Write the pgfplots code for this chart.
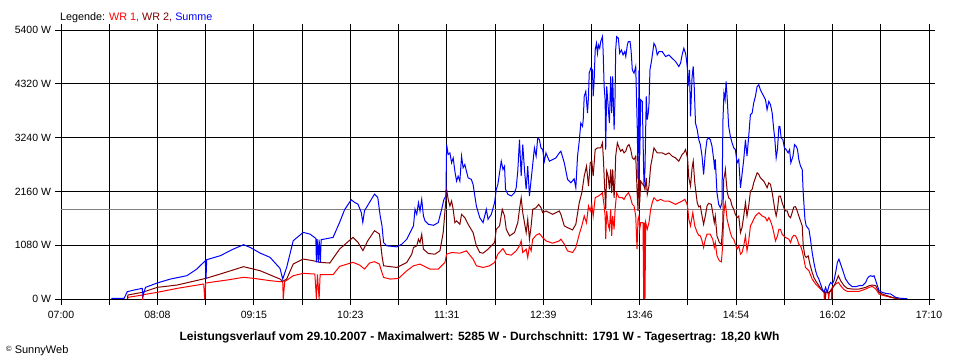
\documentclass[border=0pt]{standalone}
\usepackage{pgfplots}
\pgfplotsset{compat=1.18}
\usepackage{fontspec}
\setmainfont{Liberation Sans}
\definecolor{wrone}{RGB}{255,0,0}
\definecolor{wrtwo}{RGB}{128,0,0}
\definecolor{summe}{RGB}{0,0,255}
\definecolor{avg}{RGB}{128,128,128}
\begin{document}
\begin{tikzpicture}[x=1pt,y=1pt]
\path[use as bounding box] (0,0) rectangle (960,360);
\begin{axis}[
  at={(61pt,61pt)}, anchor=south west, scale only axis,
  width=868pt, height=269pt,
  xmin=0, xmax=610, ymin=0, ymax=5400,
  xtick={0,33.889,67.778,101.667,135.556,169.444,203.333,237.222,271.111,305,338.889,372.778,406.667,440.556,474.444,508.333,542.222,576.111,610},
  xticklabels={07:00,,08:08,,09:15,,10:23,,11:31,,12:39,,13:46,,14:54,,16:02,,17:10},
  ytick={0,1080,2160,3240,4320,5400},
  yticklabels={0 W,1080 W,2160 W,3240 W,4320 W,5400 W},
  grid=major, major grid style={black, line width=1pt},
  axis line style={black, line width=1pt},
  tick align=outside, major tick length=6pt,
  tick style={black, line width=1pt},
  xticklabel style={font=\fontsize{10.5}{12}\selectfont, yshift=-3pt},
  yticklabel style={font=\fontsize{10.5}{12}\selectfont, xshift=-0.5pt},
  every axis plot/.append style={line width=1pt, line join=miter},
]
\addplot[avg, line width=1pt] coordinates {(0,1791) (610,1791)};
% WR 1
\addplot[wrone] coordinates {
(46.7,0) (47.0,33) (57.2,80) (57.4,0) (57.9,87) (67.7,134) (81.7,214) (100.3,301) (101.0,0) (101.7,321) (116.6,381) (128.3,435) (135.3,415) (146.9,368) (153.9,348) (155.8,348) (156.2,0) (157.2,348) (163.2,468) (170.2,515) (178.4,501) (179.5,0) (180.2,495) (181.4,0) (182.1,488) (191.2,488) (195.8,655) (205.2,736) (209.8,682) (213.3,602) (216.8,722) (220.3,749) (223.8,702)
(224.4,633) (226.7,433) (231.4,400) (237.2,413) (243.0,567) (247.7,667) (252.3,700) (254.7,667) (259.3,600) (265.1,600) (269.8,733) (271.0,900) (274.5,933) (280.3,920) (284.9,967) (289.6,800) (291.9,667) (296.6,633) (301.2,667) (304.7,733) (307.0,900) (310.6,1013) (312.9,900) (316.4,880) (319.9,967) (322.2,1067) (323.4,1167) (324.5,933) (326.9,1000) (328.0,833) (329.2,1067) (330.4,967) (331.5,1200) (333.9,1280) (336.2,1313) (338.5,1233) (340.8,1167) (345.5,1120) (350.2,1167) (351.3,1200) (353.7,1100) (356.0,967) (359.5,933) (361.8,1033)
(364.2,1300) (366.0,1467) (367.7,1667) (369.3,1533) (370.7,1867) (371.9,1767) (373.0,1900) (374.0,1667) (375.4,2033) (377.7,2067) (379.3,2100) (380.5,2133) (381.7,1867) (382.4,1667) (382.8,1200) (383.5,1767) (384.7,1467) (385.4,1400) (386.3,1800) (387.0,1267) (387.7,1667) (388.7,1400) (389.4,1800) (390.5,2133) (392.2,2033) (394.5,2033) (395.7,2000) (396.9,2067) (398.7,2133) (399.9,2067) (401.5,1900) (402.7,1867) (403.9,1667) (404.8,1000) (405.5,1600) (406.2,1667) (406.7,1400) (407.4,1533) (409.0,1533) (409.5,0) (409.9,1533) (410.4,0) (410.9,1533) (412.0,1400) (413.2,1533) (414.4,1800) (415.5,1933) (416.7,2033) (419.0,1967) (421.4,2000) (423.7,1967) (427.2,1967) (429.5,1933) (431.9,1900) (434.2,1933) (436.5,1967) (438.4,2000) (439.6,1933) (440.3,1867) (441.2,1600) (442.4,1467) (444.0,1733) (445.4,1467) (447.1,1333) (448.2,1280)
(449.3,1267) (450.5,1167) (451.6,1033) (452.8,1200) (454.0,1300) (456.3,1300) (458.0,1200) (459.1,1033) (459.8,1133) (461.0,867) (462.7,767) (464.1,747) (465.0,1067) (465.7,1667) (466.4,1867) (466.9,1933) (468.1,1600) (469.2,1467) (470.4,1333) (471.6,1233) (472.8,1200) (473.9,1100) (475.1,1000) (476.3,1067) (477.5,900) (478.6,933) (479.8,1067) (481.0,1267) (482.1,967) (483.3,1167) (484.5,1467) (485.7,1533) (486.8,1600) (488.0,1667) (490.4,1733) (492.7,1667) (495.1,1633) (496.2,1567) (497.4,1633) (498.6,1567) (499.8,1467) (500.9,1333) (502.1,1167) (503.5,1267) (504.5,1400) (505.6,1400) (506.8,1300) (509.2,1233) (511.5,1200) (512.7,1133) (513.8,1233) (515.0,1280) (516.2,1267) (517.4,1200) (518.5,1100) (519.7,1067) (520.9,967) (522.1,800) (523.2,633) (524.4,600) (525.6,567) (527.9,400) (530.3,300) (532.6,233) (533.8,200) (536.2,147) (536.4,0) (536.9,147) (539.2,133) (539.5,0) (540.0,133) (541.4,200) (541.6,0) (542.0,233) (544.4,300) (546.3,333) (547.9,267) (550.3,187) (552.6,153) (556.1,153) (560.8,153) (565.5,200) (567.9,233) (570.2,253) (572.6,200) (574.9,100) (578.4,67) (583.1,33) (586.6,13) (588.9,0)
};
% WR 2
\addplot[wrtwo] coordinates {
(46.7,0) (47.0,80) (57.2,134) (67.7,234) (81.7,281) (101.9,415) (112.0,502) (128.3,649) (139.9,568) (153.9,401) (155.8,354) (158.6,401) (163.2,702) (170.2,802) (177.2,769) (181.9,736) (188.9,722) (195.8,1003) (205.2,1237) (208.7,1137) (212.2,970) (215.6,1170) (220.3,1371) (223.8,1304)
(225.6,867) (226.7,667) (236.0,633) (243.0,733) (246.5,900) (247.7,1033) (250.0,1067) (251.2,1200) (252.3,1133) (253.5,1300) (254.7,1000) (258.2,913) (262.8,900) (266.3,967) (268.6,1333) (270.5,2000) (271.0,2200) (272.1,2000) (273.3,1867) (274.5,1967) (275.6,1800) (276.8,1533) (278.0,1567) (280.3,1500) (281.5,1700) (283.8,1633) (286.1,1500) (289.6,1333) (291.9,1067) (294.3,933) (296.6,920) (300.1,1000) (302.4,1067) (304.7,1133) (305.9,1400) (308.2,1467) (310.1,1800) (311.7,1667) (312.9,1400) (315.2,1267) (318.7,1333) (321.0,1533) (322.2,1800) (323.4,2033) (324.5,1733) (325.7,1533) (326.9,1333) (328.0,1600) (329.2,1200) (330.4,1467) (331.5,1800) (333.9,1833) (335.7,1900) (337.3,1833) (338.5,1733) (340.8,1767) (345.5,1700) (350.2,1767) (351.3,1700) (353.7,1467) (356.0,1433) (359.5,1387) (361.8,1500)
(364.2,1933) (366.0,2133) (367.7,2467) (369.3,2667) (370.7,2267) (371.9,2733) (373.0,2767) (374.0,2467) (375.4,3000) (377.0,3033) (379.3,3033) (380.5,3133) (381.2,2800) (381.9,2333) (382.8,1800) (383.5,2567) (384.5,2467) (385.4,2200) (386.3,2600) (387.0,2133) (387.7,2600) (388.7,2033) (389.4,2467) (389.8,2867) (391.0,3133) (392.2,3033) (393.3,2967) (394.5,3000) (395.7,2933) (396.9,2967) (398.0,3067) (399.2,3100) (400.4,3000) (401.5,2833) (402.7,2800) (403.9,2867) (405.0,2067) (405.5,1767) (406.2,2867) (406.7,1933) (407.4,2367) (409.7,2267) (410.4,2200) (411.3,2433) (412.0,2100) (413.2,2267) (414.4,2667) (415.5,2833) (416.7,3033) (419.0,2933) (422.5,2933) (424.9,2900) (427.2,2933) (429.5,2867) (431.9,2833) (434.2,2767) (436.5,2900) (437.7,2933) (438.9,3000) (440.3,2833) (441.2,2433) (442.4,2267) (443.5,2633) (444.3,2767) (445.4,2333) (447.1,1933) (448.2,1850)
(449.3,1867) (450.5,1667) (451.6,1500) (452.8,1667) (454.0,1867) (455.1,1920) (457.0,1900) (458.0,1733) (459.1,1533) (459.8,1667) (461.0,1267) (462.7,1133) (464.1,1100) (465.0,1467) (465.7,2400) (466.4,2500) (466.9,2600) (467.4,2400) (468.3,2133) (469.2,2033) (470.4,2000) (471.6,1867) (472.8,1800) (473.9,1700) (475.1,1633) (476.3,1667) (477.5,1333) (478.6,1433) (479.8,1667) (481.0,1933) (482.1,1667) (483.3,1867) (484.5,2167) (485.7,2200) (486.8,2333) (488.0,2433) (489.2,2533) (490.4,2500) (491.5,2433) (492.7,2400) (493.9,2367) (495.1,2300) (496.2,2233) (497.4,2333) (498.6,2300) (499.8,2133) (500.9,1933) (501.6,1800) (502.6,1667) (503.5,1800) (504.5,2067) (505.6,2067) (506.8,1933) (508.0,1833) (509.2,1767) (510.3,1767) (511.5,1667) (512.7,1633) (513.8,1733) (515.0,1847) (516.2,1853) (517.4,1767) (518.5,1667) (519.7,1567) (520.9,1467) (521.6,1067) (522.8,867) (523.7,833) (525.1,867) (526.3,700) (527.9,533) (529.1,433) (530.3,367) (532.6,267) (535.0,167) (536.9,133) (537.1,0) (537.6,133) (539.7,133) (542.0,200) (544.4,333) (546.3,467) (547.9,367) (550.3,267) (552.6,213) (556.1,200) (560.8,200) (565.5,233) (567.9,267) (570.2,280) (572.6,267) (574.9,133) (577.2,100) (581.9,53) (586.6,13) (588.9,0)
};
% Summe
\addplot[summe] coordinates {
(35.4,13) (44.3,13) (46.6,147) (51.3,180) (57.1,214) (57.6,67) (59.4,234) (67.6,321) (76.9,401) (88.5,468) (95.5,602) (101.4,769) (101.9,401) (102.4,789) (111.9,869) (121.2,1003) (128.3,1090) (132.9,1036) (139.9,923) (146.9,836) (153.9,615) (155.8,401) (158.6,635) (163.2,1170) (170.2,1337) (174.9,1304) (179.1,1217) (179.5,736) (180.0,1204) (180.9,736) (181.4,1190) (182.3,736) (182.8,1190) (191.2,1237) (195.8,1538) (199.3,1792) (204.0,1993) (206.3,1939) (208.7,1906) (211.0,1739) (212.1,1538) (213.3,1772) (216.8,1939) (220.3,2106) (222.6,2040) (224.3,1672)
(225.6,1467) (226.7,1133) (229.0,1067) (236.0,1047) (239.5,1100) (243.0,1200) (247.7,1467) (248.8,1800) (250.0,1700) (251.2,1933) (252.3,1767) (253.5,2000) (254.7,1667) (255.8,1567) (258.2,1500) (261.7,1480) (265.1,1533) (267.5,1800) (269.1,2000) (270.5,2067) (271.0,3100) (272.1,2900) (273.3,2933) (274.5,2733) (275.6,2833) (276.8,2567) (278.0,2367) (279.1,2467) (280.3,2367) (281.5,2867) (282.6,2633) (283.8,2700) (284.9,2567) (286.1,2433) (288.4,2400) (289.6,2300) (291.9,1867) (294.3,1633) (296.6,1533) (298.9,1800) (300.1,1600) (302.4,1700) (304.7,1933) (305.9,2200) (307.0,2300) (309.4,2767) (310.6,2600) (311.7,2667) (312.4,2200) (314.1,2100) (316.4,2067) (318.7,2133) (319.9,2233) (321.0,2567) (322.2,3200) (323.4,2467) (324.5,3100) (325.7,2600) (326.9,2200) (328.0,2667) (329.2,2067) (330.4,2400) (331.5,2700) (332.7,3033) (333.9,2867) (335.0,3233) (336.2,3200) (337.3,3033) (338.5,3000) (339.7,2767) (340.8,2933) (343.2,2767) (345.5,2800) (347.8,2833) (350.2,2933) (351.3,2967) (353.7,2733) (356.0,2400) (358.3,2333) (360.6,2413) (361.8,2233)
(363.0,2867) (364.2,3167) (365.3,3533) (366.5,3467) (367.0,3600) (367.7,4067) (368.8,4167) (370.0,3733) (370.7,4067) (371.2,4533) (372.3,4633) (373.5,4600) (374.0,4067) (374.7,4400) (375.4,5000) (376.3,5133) (377.0,4933) (377.7,5100) (378.6,5033) (379.3,5167) (380.5,5267) (381.0,4967) (381.7,4267) (382.4,4000) (382.8,3000) (383.5,4267) (384.7,3800) (385.4,3533) (386.3,4467) (387.0,3733) (387.7,4467) (388.7,3400) (389.4,4100) (389.8,5000) (390.5,5267) (391.7,5233) (392.6,4933) (393.8,5000) (395.0,4900) (396.2,4967) (396.9,4867) (398.0,5100) (398.7,5167) (399.9,5167) (400.6,5000) (401.5,4600) (402.7,4533) (403.9,4667) (405.0,3400) (405.5,2400) (406.2,4600) (406.7,2867) (407.4,4000) (408.5,3967) (409.7,2267) (410.4,2600) (411.3,4067) (412.0,3600) (412.7,3733) (413.2,3900) (413.9,4600) (415.1,4800) (416.7,5133) (417.9,5067) (419.0,4900) (420.2,4967) (422.5,4967) (424.9,4867) (427.2,4900) (429.5,4833) (431.9,4767) (434.2,4667) (435.4,4733) (436.5,4900) (437.7,5033) (438.9,4933) (439.6,4800) (440.3,4600) (440.7,4267) (441.7,4600) (442.4,3667) (443.5,4467) (444.3,4667) (445.0,4267) (445.9,3533) (447.1,3400) (448.2,3200)
(449.3,3100) (450.5,2867) (451.6,2500) (452.8,2933) (454.0,3200) (455.1,3233) (456.3,3200) (457.5,3067) (458.7,2800) (459.4,2600) (459.8,2800) (461.0,2133) (462.2,1900) (463.4,1833) (464.5,1933) (465.2,3600) (465.9,4133) (466.7,4000) (467.4,4367) (468.1,4067) (469.2,3467) (470.4,3267) (471.6,3133) (472.8,3033) (473.9,3000) (475.1,2733) (476.3,2800) (477.5,2233) (478.6,2500) (479.8,2800) (481.0,3200) (482.1,2867) (483.3,3267) (484.5,3700) (485.7,3733) (486.8,3933) (488.0,4067) (489.2,4267) (490.4,4300) (491.5,4200) (492.7,4133) (493.9,4067) (495.1,4000) (496.2,3800) (497.4,3967) (498.6,3900) (499.8,3733) (500.9,3400) (501.6,3233) (502.6,2833) (503.5,3000) (504.5,3467) (505.2,3467) (506.1,3233) (507.3,3200) (508.4,3033) (509.6,3000) (511.0,2933) (512.0,3000) (512.9,2733) (514.4,2867) (515.5,3100) (516.6,3067) (517.6,3000) (518.5,2800) (519.7,2667) (520.9,2600) (521.6,2133) (522.8,1600) (523.7,1467) (525.6,1400) (526.7,1200) (527.9,933) (529.1,733) (530.3,567) (531.4,467) (532.6,400) (533.8,300) (535.0,200) (536.2,133) (537.3,233) (538.5,133) (539.7,267) (540.9,333) (542.0,300) (543.2,367) (544.4,533) (545.6,733) (546.7,800) (547.9,700) (549.1,600) (551.4,400) (553.8,300) (556.1,247) (558.5,247) (560.8,267) (563.2,267) (565.5,333) (566.7,413) (567.9,453) (569.0,467) (570.2,453) (571.4,467) (572.6,367) (573.7,267) (574.9,167) (577.2,133) (579.6,113) (583.1,100) (586.6,33) (590.1,13) (594.8,7)
};
\end{axis}
\node[anchor=base west, inner sep=0pt, font=\fontsize{10.8}{12}\selectfont] at (60,340) {Legende: \textcolor{wrone}{WR 1,} \textcolor{wrtwo}{WR 2,} \textcolor{summe}{Summe}};
\node[anchor=base, inner sep=0pt, font=\fontsize{12}{14}\selectfont\bfseries] at (479.5,20) {Leistungsverlauf vom 29.10.2007 - Maximalwert: 5285 W - Durchschnitt: 1791 W - Tagesertrag: 18,20 kWh};
\node[anchor=base west, inner sep=0pt, font=\fontsize{11}{12}\selectfont] at (6,7) {\raisebox{1.5pt}{\fontsize{7.5}{8}\selectfont ©} SunnyWeb};
\end{tikzpicture}
\end{document}
